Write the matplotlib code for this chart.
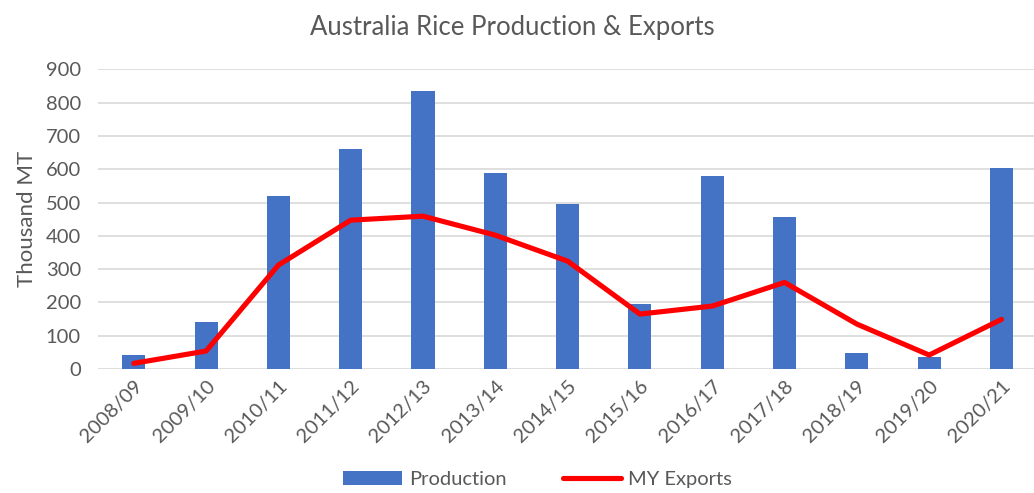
import numpy as np
import matplotlib.pyplot as plt

plt.rcParams['font.family'] = ['Lato', 'DejaVu Sans']

years = ["2008/09", "2009/10", "2010/11", "2011/12", "2012/13", "2013/14", "2014/15",
         "2015/16", "2016/17", "2017/18", "2018/19", "2019/20", "2020/21"]
production = [42, 140, 519, 660, 834, 588, 495, 195, 579, 455, 47, 37, 603]
exports = [17, 54, 312, 447, 459, 402, 324, 165, 189, 260, 135, 42, 149]

grey = "#595959"

fig = plt.figure(figsize=(10.34, 4.93), dpi=100)
ax = fig.add_axes([0.0944, 0.2515, 0.9056, 0.6079])

x = np.arange(len(years))
bars = ax.bar(x, production, width=0.32, color="#4472C4", label="Production", zorder=2)
line, = ax.plot(x, exports, color="#FF0000", lw=3.7, solid_capstyle="round",
                label="MY Exports", zorder=3)

ax.set_xlim(-0.5, 12.45)
ax.set_ylim(0, 900)
ax.set_yticks(range(0, 901, 100))
ax.set_xticks(x)
ax.set_xticklabels(years, rotation=45, ha="right", rotation_mode="anchor")
ax.tick_params(axis="both", length=0, labelsize=14.5, labelcolor=grey)
ax.tick_params(axis="y", pad=12)
ax.tick_params(axis="x", pad=6)
ax.grid(axis="y", color="#d9d9d9", lw=1.2, zorder=0)
ax.set_axisbelow(True)
for s in ax.spines.values():
    s.set_visible(False)

ax.set_ylabel("Thousand MT", fontsize=16, color=grey, labelpad=6)
fig.text(0.495, 0.945, "Australia Rice Production & Exports", ha="center",
         va="center", fontsize=18.5, color=grey)

fig.legend([bars, line], ["Production", "MY Exports"], loc="center",
           bbox_to_anchor=(0.52, 0.028), ncol=2, frameon=False,
           fontsize=14.5, labelcolor=grey, handlelength=2.9, handletextpad=0.35,
           columnspacing=2.8, borderpad=0.1)

fig.savefig("out.png", dpi=100)
